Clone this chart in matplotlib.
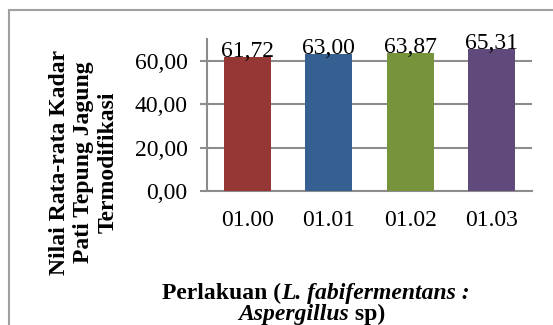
import matplotlib.pyplot as plt
from matplotlib.patches import Rectangle

categories = ['01.00', '01.01', '01.02', '01.03']
values = [61.72, 63.00, 63.87, 65.31]
labels = ['61,72', '63,00', '63,87', '65,31']
colors = ['#953735', '#376092', '#77933c', '#604a7b']

plt.rcParams['font.family'] = 'Liberation Serif'

fig = plt.figure(figsize=(5.53, 3.25), dpi=100)
ax = fig.add_axes([207/553, 1 - 191/325, 325/553, 151.7/325])

x = range(len(categories))
ax.bar(x, values, width=0.58, color=colors, zorder=3)
for i, v in enumerate(values):
    ax.text(i, v, labels[i], ha='center', va='baseline', fontsize=17, zorder=4)

ax.set_xlim(-0.5, 3.5)
ax.set_ylim(0, 70)
ax.set_yticks([0, 20, 40, 60])
ax.set_yticklabels(['0,00', '20,00', '40,00', '60,00'], fontsize=17)
ax.set_xticks(list(x))
ax.set_xticklabels(categories, fontsize=17)
ax.tick_params(axis='x', length=0, pad=14)
ax.tick_params(axis='y', length=5, width=1.5, color='#8c8c8c', pad=9)
ax.yaxis.grid(True, color='#8c8c8c', linewidth=1.5, zorder=0)
for s in ['top', 'right']:
    ax.spines[s].set_visible(False)
for s in ['left', 'bottom']:
    ax.spines[s].set_color('#8c8c8c')
    ax.spines[s].set_linewidth(1.5)

fig.text(84/553, 1 - 162/325, 'Nilai Rata-rata Kadar\nPati Tepung Jagung\nTermodifikasi',
         rotation=90, ha='center', va='center', fontsize=17, fontweight='bold',
         linespacing=1.2)


def mixed_line(parts, xc, y):
    # parts: list of (text, style); laid out left to right, centered on xc
    renderer = fig.canvas.get_renderer()
    texts = []
    for s, style in parts:
        t = fig.text(0, y, s, fontsize=17, fontweight='bold', fontstyle=style,
                     va='baseline', ha='left')
        texts.append(t)
    widths = [t.get_window_extent(renderer).width for t in texts]
    total = sum(widths)
    pos = xc * 553 - total / 2
    for t, w in zip(texts, widths):
        t.set_x(pos / 553)
        pos += w


mixed_line([('Perlakuan (', 'normal'), ('L. fabifermentans :', 'italic')],
           316/553, 1 - 299/325)
mixed_line([('Aspergillus', 'italic'), (' sp)', 'normal')],
           312/553, 1 - 320/325)

# outer chart border (extends beyond right/bottom edge)
fig.patches.append(Rectangle((9/553, -0.1), 1.2, (325 - 10)/325 + 0.1,
                             transform=fig.transFigure, fill=False,
                             edgecolor='#a0a0a0', linewidth=1.5))

fig.savefig('out.png', dpi=100)
